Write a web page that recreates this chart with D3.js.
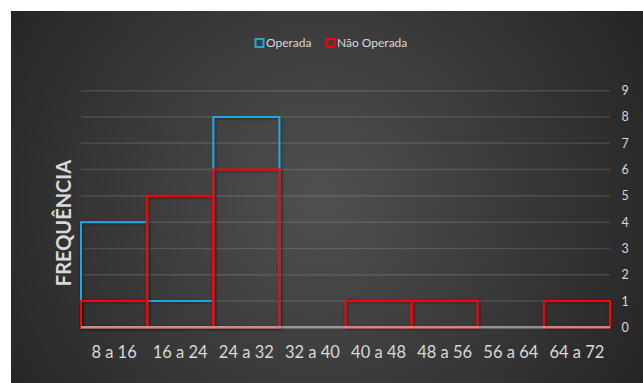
<!DOCTYPE html>
<html>
<head>
<meta charset="utf-8">
<script src="https://cdn.jsdelivr.net/npm/d3@7"></script>
<style>
  html, body { margin: 0; padding: 0; background: #ffffff; }
  svg { display: block; }
</style>
</head>
<body>
<svg id="chart" width="643" height="383"></svg>
<script>
// Frequency classes and counts per group
const categories = ["8 a 16", "16 a 24", "24 a 32", "32 a 40", "40 a 48", "48 a 56", "56 a 64", "64 a 72"];
const operada    = [4, 1, 8, 0, 0, 0, 0, 0];
const naoOperada = [1, 5, 6, 0, 1, 1, 0, 1];
const yTicks = [0, 1, 2, 3, 4, 5, 6, 7, 8, 9];
const seriesNames = ["Operada", "Não Operada"];
const seriesColors = ["#1aa8e0", "#ff0000"];

const W = 643, H = 383;
const svg = d3.select("#chart");
const defs = svg.append("defs");

// Dark panel with a lighter centre
const grad = defs.append("radialGradient")
  .attr("id", "bg").attr("gradientUnits", "userSpaceOnUse")
  .attr("cx", 320).attr("cy", 200).attr("r", 380);
grad.append("stop").attr("offset", "0%").attr("stop-color", "#505050");
grad.append("stop").attr("offset", "100%").attr("stop-color", "#242424");

const shadow = defs.append("filter").attr("id", "shadow")
  .attr("x", "-10%").attr("y", "-10%").attr("width", "120%").attr("height", "120%");
shadow.append("feDropShadow").attr("dx", 1).attr("dy", 1).attr("stdDeviation", 1.5)
  .attr("flood-color", "#000").attr("flood-opacity", 0.45);

svg.append("rect").attr("x", 11).attr("y", 11).attr("width", W - 11).attr("height", H - 11)
  .attr("fill", "url(#bg)");

const plot = { left: 81, right: 610, top: 90.7, bottom: 327.3 };

const x = d3.scaleBand().domain(categories).range([plot.left, plot.right]).padding(0);
const y = d3.scaleLinear().domain([0, 9]).range([plot.bottom, plot.top]);

const font = "Lato, 'Open Sans', sans-serif";

// Horizontal gridlines
svg.append("g").selectAll("line").data(yTicks.filter(d => d > 0)).join("line")
  .attr("x1", plot.left).attr("x2", plot.right)
  .attr("y1", d => y(d)).attr("y2", d => y(d))
  .attr("stroke", "#ffffff").attr("stroke-opacity", 0.12).attr("stroke-width", 1.5);

// Right-hand value axis
const yAxis = svg.append("g")
  .attr("transform", `translate(${plot.right + 15},0)`)
  .call(d3.axisRight(y).tickValues(yTicks).tickSize(0).tickPadding(0).tickFormat(d3.format("d")));
yAxis.select(".domain").remove();
yAxis.selectAll("text")
  .attr("fill", "#d9d9d9").attr("font-family", font).attr("font-size", 12.5)
  .attr("text-anchor", "middle").attr("dx", 0);

// Category axis labels
const xAxis = svg.append("g")
  .attr("transform", `translate(0,${plot.bottom})`)
  .call(d3.axisBottom(x).tickSize(0).tickPadding(19));
xAxis.select(".domain").remove();
xAxis.selectAll("text")
  .attr("fill", "#d9d9d9").attr("font-family", font).attr("font-size", 16.5);

// Histogram outlines: Operada first, Não Operada on top
[operada, naoOperada].forEach((vals, i) => {
  svg.append("g").attr("filter", "url(#shadow)")
    .selectAll("rect").data(vals.map((v, j) => ({ c: categories[j], v })).filter(d => d.v > 0))
    .join("rect")
    .attr("x", d => x(d.c))
    .attr("y", d => y(d.v))
    .attr("width", x.bandwidth())
    .attr("height", d => y(0) - y(d.v))
    .attr("fill", "none")
    .attr("stroke", seriesColors[i])
    .attr("stroke-width", 2);
});

// Zero baseline
svg.append("line")
  .attr("x1", plot.left).attr("x2", plot.right)
  .attr("y1", y(0)).attr("y2", y(0))
  .attr("stroke", "#e0e0e0").attr("stroke-opacity", 0.55).attr("stroke-width", 2.5);

// Legend
const legend = svg.append("g").attr("transform", "translate(255,43)");
const legendX = [0, 71];
seriesNames.forEach((name, i) => {
  const g = legend.append("g").attr("transform", `translate(${legendX[i]},0)`);
  g.append("rect").attr("x", 0.5).attr("y", -4).attr("width", 8).attr("height", 8)
    .attr("fill", "none").attr("stroke", seriesColors[i]).attr("stroke-width", 2);
  g.append("text").attr("x", 11).attr("y", 0).attr("dy", "0.35em")
    .attr("fill", "#d9d9d9").attr("font-family", font).attr("font-size", 12).text(name);
});

// Vertical axis title
svg.append("text")
  .attr("transform", `translate(71,223) rotate(-90)`)
  .attr("text-anchor", "middle")
  .attr("fill", "#d9d9d9").attr("font-family", font).attr("font-weight", "bold")
  .attr("font-size", 20).text("FREQUÊNCIA");
</script>
</body>
</html>
